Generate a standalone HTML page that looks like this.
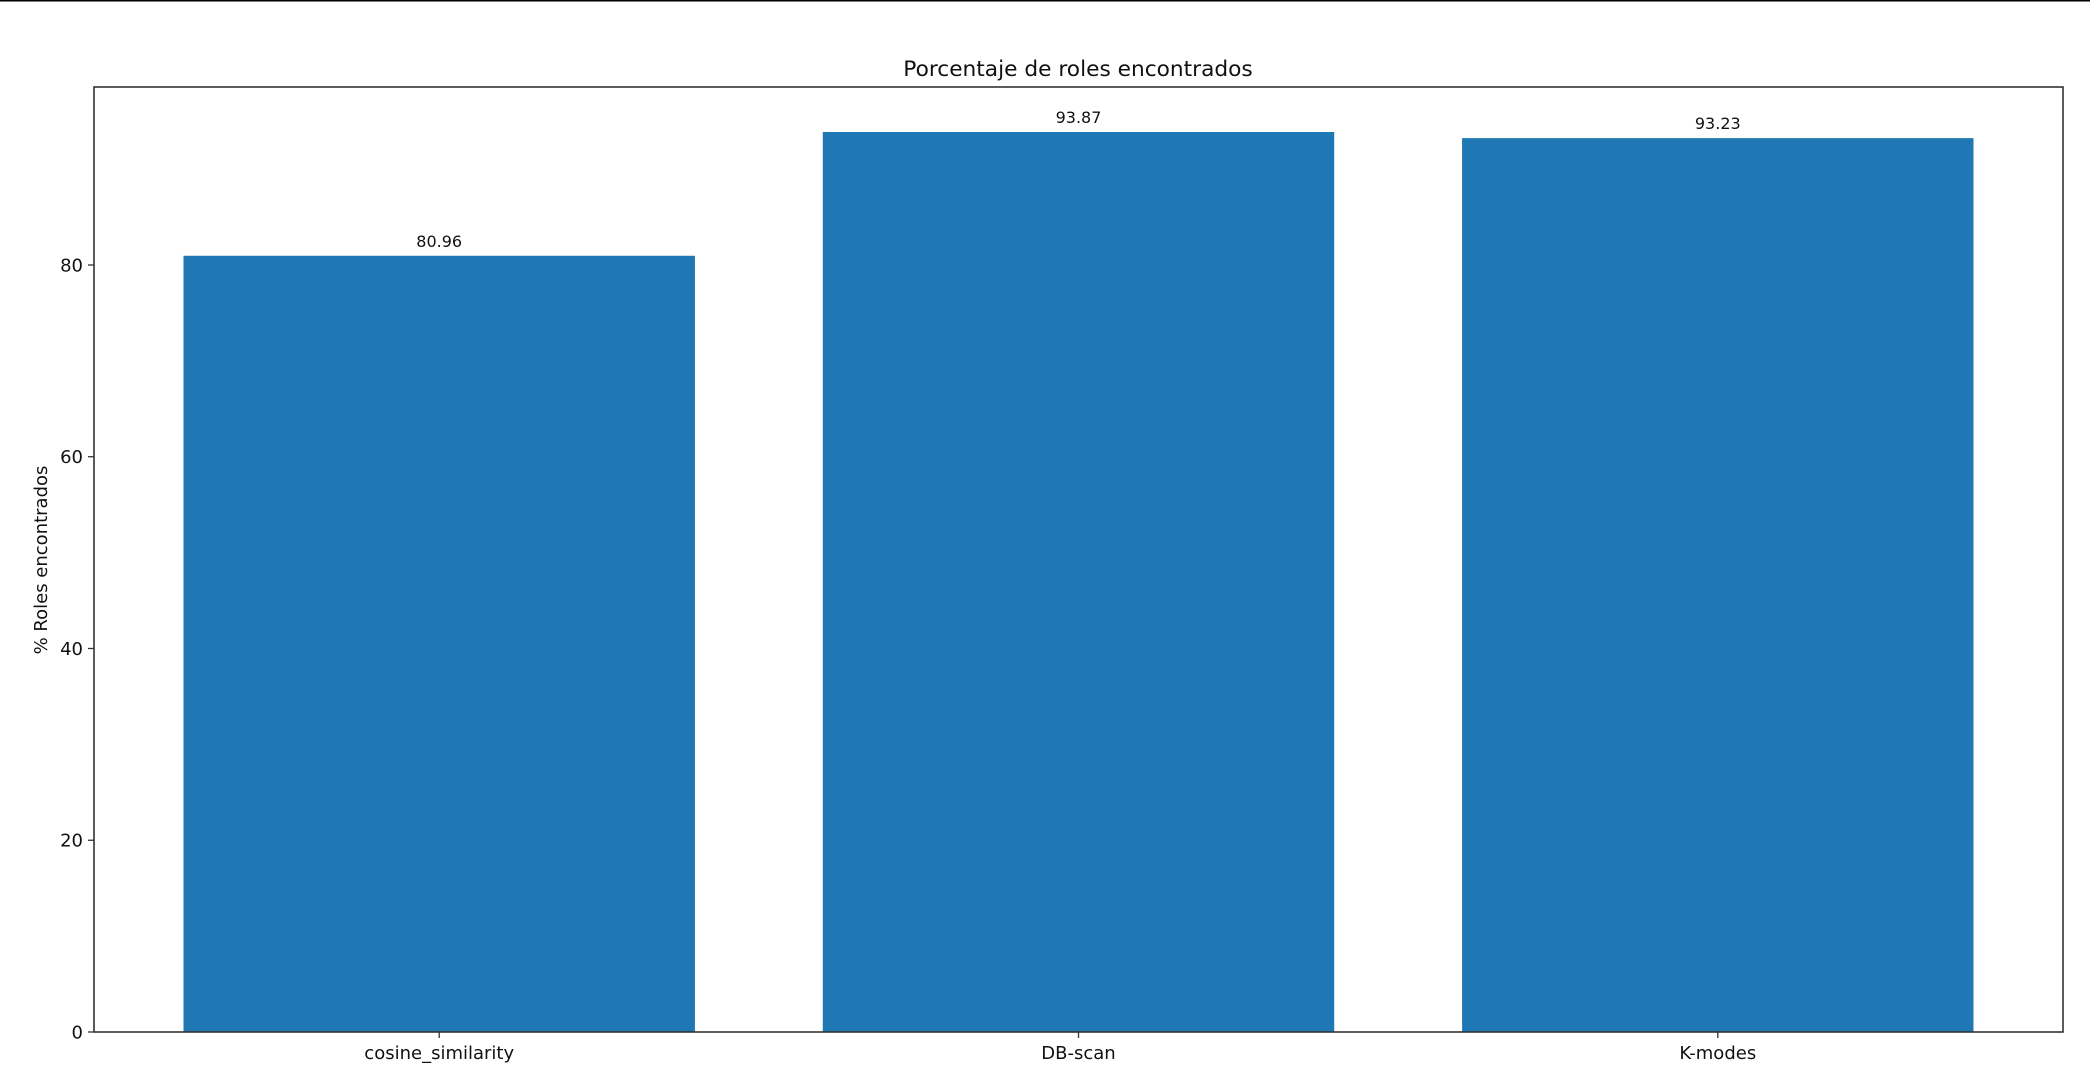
<!DOCTYPE html>
<html><head><meta charset="utf-8"><style>
html,body{margin:0;padding:0;background:#fff}
svg{display:block;font-family:"DejaVu Sans","Liberation Sans",sans-serif}
</style></head><body>
<svg id="chart" width="2090" height="1092" viewBox="0 0 2090 1092">
<line x1="0" y1="0.5" x2="2090" y2="0.5" stroke="#000" stroke-width="2"/>
<text x="1078" y="76" font-size="21.7" text-anchor="middle" fill="#111">Porcentaje de roles encontrados</text>
<text transform="translate(47,560) rotate(-90)" font-size="18" text-anchor="middle" fill="#111">% Roles encontrados</text>
<g id="bars"></g><g id="axes"></g>
</svg>
<script>
const categories=["cosine_similarity","DB-scan","K-modes"];
const values=[80.96,93.87,93.23];
const valueLabels=["80.96","93.87","93.23"];
const yTicks=[0,20,40,60,80];
const NS="http://www.w3.org/2000/svg";
const L=94,R=2063,T=87,B=1032;
const yMax=Math.max(...values)*1.05;
const xMin=-0.54,xMax=categories.length-1+0.54;
const x=v=>L+(v-xMin)/(xMax-xMin)*(R-L);
const y=v=>B-v/yMax*(B-T);
function mk(tag,attrs,parent){const e=document.createElementNS(NS,tag);for(const k in attrs)e.setAttribute(k,attrs[k]);parent.appendChild(e);return e;}
const gb=document.getElementById('bars'),ga=document.getElementById('axes');
categories.forEach((c,i)=>{
 const r=mk('rect',{x:x(i-0.4),y:y(values[i]),width:x(i+0.4)-x(i-0.4),height:y(0)-y(values[i]),fill:'#1f77b4'},gb);
 
 
 const t=mk('text',{x:x(i),y:y(values[i])-9,'font-size':16,'text-anchor':'middle',fill:'#111'},gb);
 t.textContent=valueLabels[i];
 
 
 const tk=mk('line',{x1:x(i),x2:x(i),y1:B,y2:B+6,stroke:'#333','stroke-width':1.3},ga);
 
 
 const tl=mk('text',{x:x(i),y:B+27,'font-size':18,'text-anchor':'middle',fill:'#111'},ga);
 tl.textContent=c;
 
 
});
yTicks.forEach(v=>{
 const tk=mk('line',{x1:L-6,x2:L,y1:y(v),y2:y(v),stroke:'#333','stroke-width':1.3},ga);
 
 
 const tl=mk('text',{x:L-11,y:y(v)+6.5,'font-size':18,'text-anchor':'end',fill:'#111'},ga);
 tl.textContent=v;
 
 
});
const fr=mk('rect',{x:L,y:T,width:R-L,height:B-T,fill:'none',stroke:'#333','stroke-width':1.6},ga);


</script>
</body></html>
